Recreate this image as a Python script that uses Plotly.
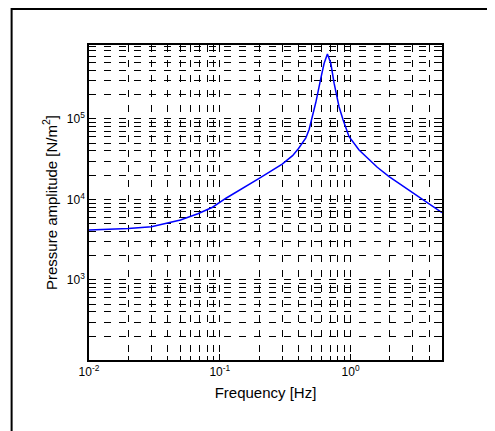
import plotly.graph_objects as go

# Data (frequency in Hz, pressure amplitude in N/m^2)
freq_hz = [0.01, 0.02, 0.03, 0.05, 0.068, 0.088, 0.1115, 0.15, 0.2, 0.3, 0.36, 0.4,
           0.455, 0.482, 0.542, 0.596, 0.628, 0.665, 0.706, 0.748, 0.817, 0.877,
           0.974, 1.161, 1.384, 1.6, 1.97, 2.5, 3.15, 4.0, 5.0]
pressure = [4180, 4340, 4590, 5560, 6640, 8000, 10350, 13700, 18300, 27500, 35000, 43000,
            58000, 74000, 160000, 335000, 492000, 641000, 492000, 278000, 141000, 97000,
            60300, 41200, 31000, 25100, 19200, 14700, 11370, 8850, 6860]

# Major (labelled) ticks and minor (grid) ticks
x_major = [0.01, 0.1, 1.0]
x_major_text = ["10<sup>-2</sup>", "10<sup>-1</sup>", "10<sup>0</sup>"]
x_minor = [m * 10.0 ** e for e in (-2, -1, 0) for m in range(2, 10) if m * 10.0 ** e <= 5.0]
y_major = [1e3, 1e4, 1e5]
y_major_text = ["10<sup>3</sup>", "10<sup>4</sup>", "10<sup>5</sup>"]
y_minor = [m * 10.0 ** e for e in (2, 3, 4, 5) for m in range(1, 10)
           if m * 10.0 ** e <= 8.3e5 and m != 1] + [100.0]

x_range = [-2, 0.699]
y_range = [2.005, 5.919]

fig = go.Figure()
fig.add_trace(go.Scatter(x=freq_hz, y=pressure, mode="lines",
                         line=dict(color="#0000ff", width=1.5), showlegend=False))

font_family = "Arial, Liberation Sans, sans-serif"
grid_dash = "7px,8px"
axis_common = dict(
    showline=True, linecolor="black", linewidth=1.5, mirror="allticks",
    ticks="inside", ticklen=6, tickcolor="black", tickwidth=1,
    showgrid=True, gridcolor="black", gridwidth=1, griddash=grid_dash,
    zeroline=False, tickfont=dict(family=font_family, size=12, color="black"),
)
minor_common = dict(ticks="inside", ticklen=4, tickcolor="black", tickwidth=1,
                    showgrid=True, gridcolor="black", gridwidth=1, griddash=grid_dash)

fig.update_xaxes(type="log", range=x_range, tickmode="array", tickvals=x_major,
                 ticktext=x_major_text, minor=dict(tickmode="array", tickvals=x_minor, **minor_common),
                 title=dict(text="Frequency [Hz]", font=dict(family=font_family, size=15, color="black"), standoff=9),
                 **axis_common)
fig.update_yaxes(type="log", range=y_range, tickmode="array", tickvals=y_major,
                 ticktext=y_major_text, minor=dict(tickmode="array", tickvals=y_minor, **minor_common),
                 title=dict(text="Pressure amplitude [N/m<sup>2</sup>]", font=dict(family=font_family, size=15, color="black"), standoff=6),
                 **axis_common)

# Figure border (MATLAB figure frame); page body adds an 8px offset
fig.add_shape(type="rect", xref="paper", yref="paper",
              x0=(3.5 - 81) / 353.5, x1=1.3, y0=-0.4, y1=1 + (37 - 1) / 315,
              line=dict(color="black", width=2), fillcolor="rgba(0,0,0,0)", layer="below")

fig.update_layout(
    width=495, height=431,
    margin=dict(l=81, r=60.5, t=37, b=79, autoexpand=False),
    paper_bgcolor="white", plot_bgcolor="white",
    font=dict(family=font_family, color="black"),
)

fig.write_html("out.html")
